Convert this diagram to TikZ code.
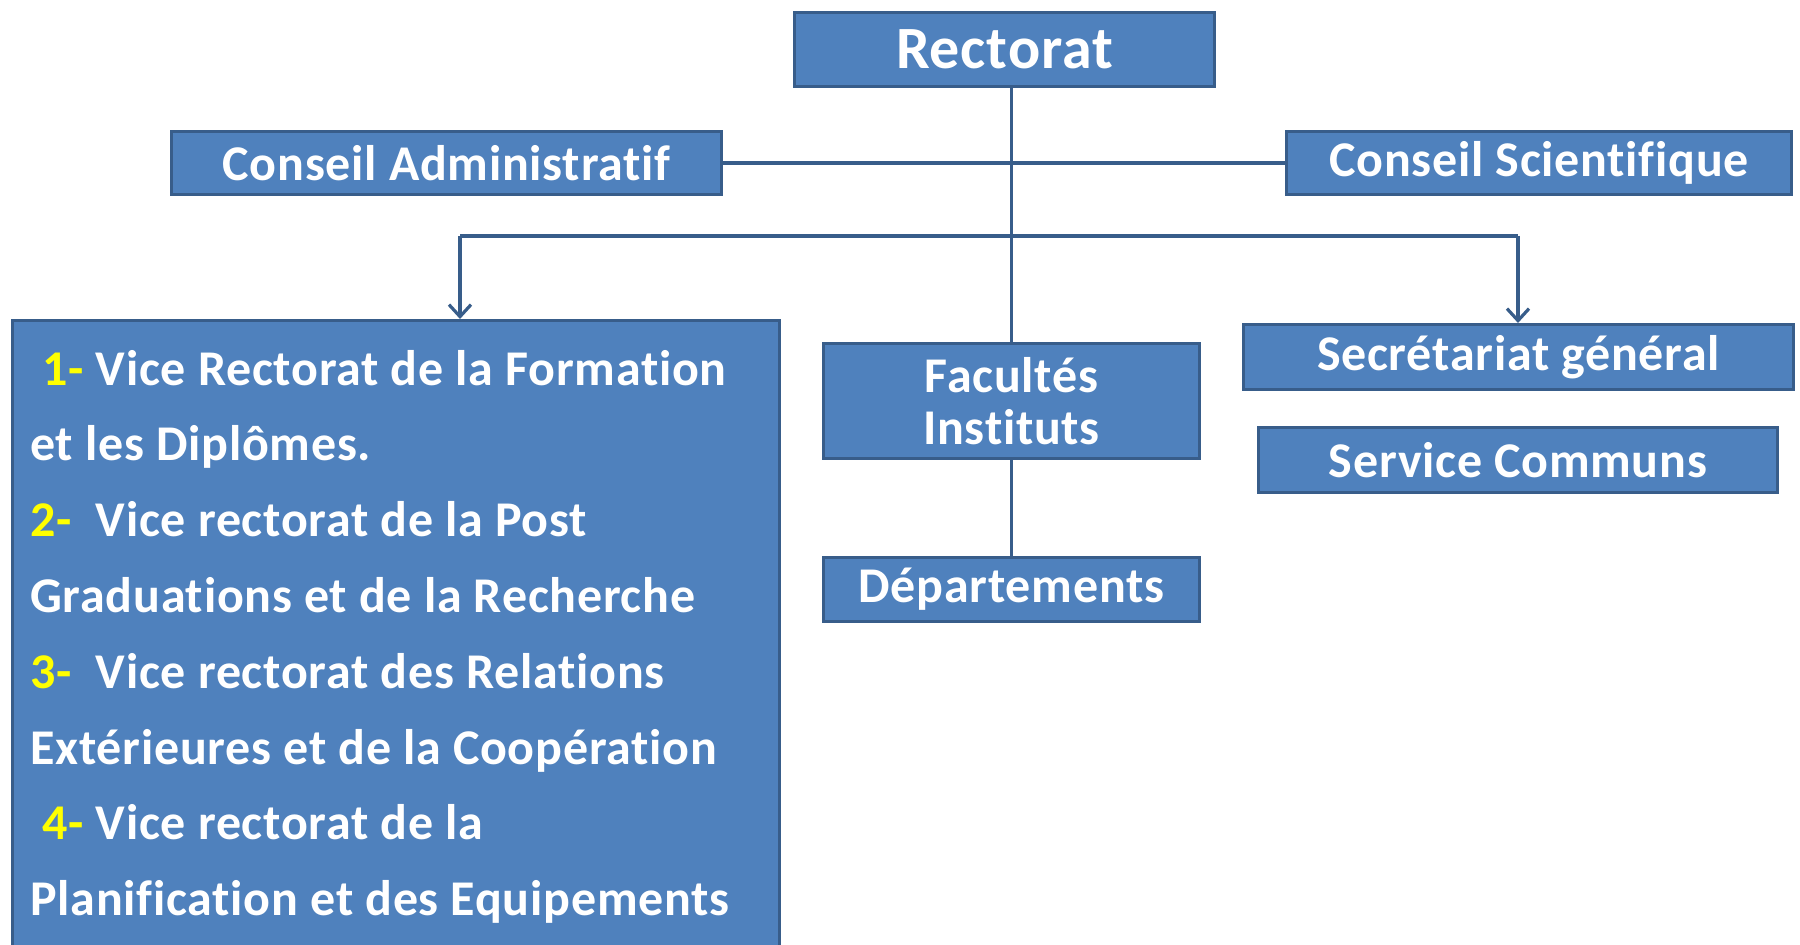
\documentclass[tikz,border=0pt]{standalone}
\usepackage{fontspec}
\setmainfont[Ligatures={NoCommon}, LetterSpace=1.5]{Carlito}
\usetikzlibrary{arrows.meta}
\definecolor{boxfill}{HTML}{4F81BD}
\definecolor{boxline}{HTML}{385D8A}
\definecolor{numyellow}{HTML}{FFFF00}
\begin{document}
\begin{tikzpicture}[x=0.5pt,y=-0.5pt,
  box/.style={draw=boxline, fill=boxfill, line width=1.5pt, text=white, inner sep=0pt, align=center, font=\bfseries\fontsize{25}{26}\selectfont},
  link/.style={draw=boxline, line width=1.6pt},
  arr/.style={link, -{Straight Barb[length=6pt,width=11pt,line width=1.6pt]}},
  vtext/.style={text=white, font=\bfseries\fontsize{25}{26}\selectfont, anchor=base west, inner sep=0pt}]
\useasboundingbox[fill=white] (0,0) rectangle (1800,945);
% boxes
\node[box, minimum width=210pt, minimum height=37pt, font=\bfseries\fontsize{30}{32}\selectfont] (rect) at (1004.5,49.5) {Rectorat};
\node[box, minimum width=275pt, minimum height=31.5pt] (ca) at (446.5,163) {Conseil Administratif};
\node[box, minimum width=252.5pt, minimum height=31.5pt] (cs) at (1539,163) {Conseil Scientifique};
\node[box, minimum width=188pt, minimum height=57.5pt] (fac) at (1011.5,401) {Facultés\\Instituts};
\node[box, minimum width=188pt, minimum height=32pt] (dep) at (1011.5,589.5) {Départements};
\node[box, minimum width=275pt, minimum height=32.5pt] (sec) at (1518.5,357) {Secrétariat général};
\node[box, minimum width=259.5pt, minimum height=32.5pt] (serv) at (1518,460) {Service Communs};
\node[box, minimum width=383.5pt, minimum height=339pt] (vice) at (396,659.5) {};
% text of the vice-rectorat box
\node[vtext] (v1) at (30,386) {\ \textcolor{numyellow}{1-} Vice Rectorat de la Formation};
\node[vtext] (v2) at (30,461) {et les Diplômes.};
\node[vtext] (v3) at (30,537) {\textcolor{numyellow}{2-}\ \ Vice rectorat de la Post};
\node[vtext] (v4) at (30,613) {Graduations et de la Recherche};
\node[vtext] (v5) at (30,689) {\textcolor{numyellow}{3-}\ \ Vice rectorat des Relations};
\node[vtext] (v6) at (30,765) {Extérieures et de la Coopération};
\node[vtext] (v7) at (30,840) {\ \textcolor{numyellow}{4-} Vice rectorat de la};
\node[vtext] (v8) at (30,916) {Planification et des Equipements};
% connectors
\draw[link] (fac.north |- rect.south) -- (fac.north);
\draw[link] (ca.east) -- (cs.west);
\coordinate (bl) at (460,236);
\coordinate (br) at (1518,236);
\draw[link] (bl) -- (br);
\draw[arr] (bl) -- (bl |- vice.north);
\draw[arr] (br) -- (br |- sec.north);
\draw[link] (fac.south) -- (dep.north);
\end{tikzpicture}
\end{document}
